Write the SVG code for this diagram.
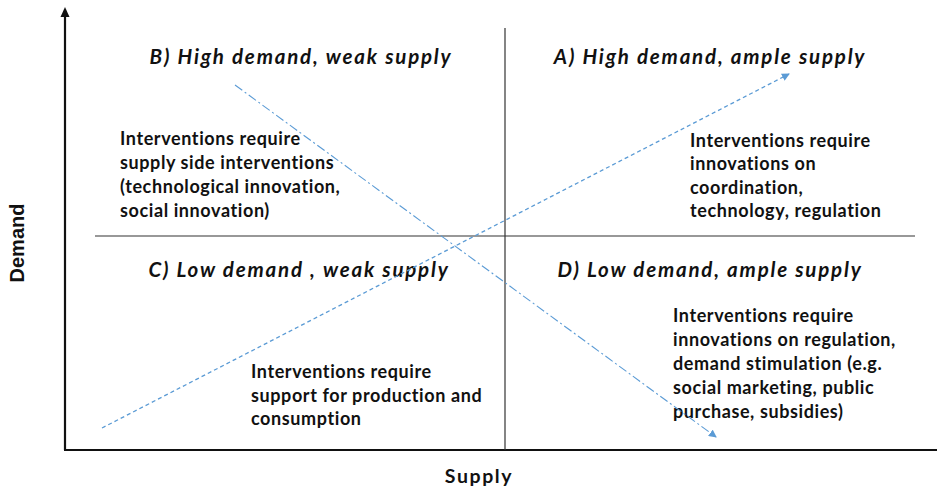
<svg xmlns="http://www.w3.org/2000/svg" width="937" height="492" viewBox="0 0 937 492">
<style>
.title{font-family:Lato,"Open Sans",sans-serif;font-weight:bold;font-style:italic;font-size:20.5px;letter-spacing:1.8px;fill:#111;text-anchor:middle}
.body{font-family:Lato,"Open Sans",sans-serif;font-weight:bold;font-size:18px;letter-spacing:0.6px;fill:#111}
.axis{stroke:#111;stroke-width:2.2;fill:none}
.grid{stroke:#333;stroke-width:1.2;fill:none}
.c1{stroke:#5B9BD5;stroke-width:1.3;fill:none;stroke-dasharray:4 3}
.c2{stroke:#5B9BD5;stroke-width:1.1;fill:none;stroke-dasharray:9 3 2 3}
</style>
<defs>
<marker id="ah" markerWidth="8" markerHeight="8" refX="7" refY="4" orient="auto" markerUnits="userSpaceOnUse">
<path d="M0,0 L8,4 L0,8 Z" fill="#5B9BD5"/>
</marker>
</defs>
<g id="axes">
<line class="axis" x1="65" y1="450" x2="65" y2="12"/>
<path d="M65,7 L69.5,17 L60.5,17 Z" fill="#111"/>
<line class="axis" x1="64" y1="450" x2="937" y2="450"/>
<text x="24" y="243" transform="rotate(-90 24 243)" style="font-family:'Liberation Sans',Arial,sans-serif;font-weight:bold;font-size:20px;fill:#111;text-anchor:middle">Demand</text>
<text x="479" y="483" style="font-family:Lato,'Open Sans',sans-serif;font-weight:bold;font-size:19.5px;letter-spacing:1.6px;fill:#111;text-anchor:middle">Supply</text>
</g>
<g id="grid">
<line class="grid" x1="505" y1="28" x2="505" y2="450"/>
<line class="grid" x1="95" y1="236" x2="915" y2="236"/>
</g>
<g id="quadrant-B">
<text class="title" x="301" y="64">B) High demand, weak supply</text>
<text class="body" x="120" y="145">Interventions require</text>
<text class="body" x="120" y="169">supply side interventions</text>
<text class="body" x="120" y="193">(technological innovation,</text>
<text class="body" x="120" y="217">social innovation)</text>
</g>
<g id="quadrant-A">
<text class="title" x="710" y="64">A) High demand, ample supply</text>
<text class="body" x="690" y="147">Interventions require</text>
<text class="body" x="690" y="170">innovations on</text>
<text class="body" x="690" y="194">coordination,</text>
<text class="body" x="690" y="217">technology, regulation</text>
</g>
<g id="quadrant-C">
<text class="title" x="299" y="277">C) Low demand , weak supply</text>
<text class="body" x="251" y="378">Interventions require</text>
<text class="body" x="251" y="402">support for production and</text>
<text class="body" x="251" y="425">consumption</text>
</g>
<g id="quadrant-D">
<text class="title" x="710" y="277">D) Low demand, ample supply</text>
<text class="body" x="673" y="322">Interventions require</text>
<text class="body" x="673" y="346">innovations on regulation,</text>
<text class="body" x="673" y="370">demand stimulation (e.g.</text>
<text class="body" x="673" y="394">social marketing, public</text>
<text class="body" x="673" y="418">purchase, subsidies)</text>
</g>
<g id="connectors">
<line class="c1" x1="102" y1="428" x2="789" y2="74" marker-end="url(#ah)"/>
<line class="c2" x1="235" y1="85" x2="716" y2="437" marker-end="url(#ah)"/>
</g>
</svg>
